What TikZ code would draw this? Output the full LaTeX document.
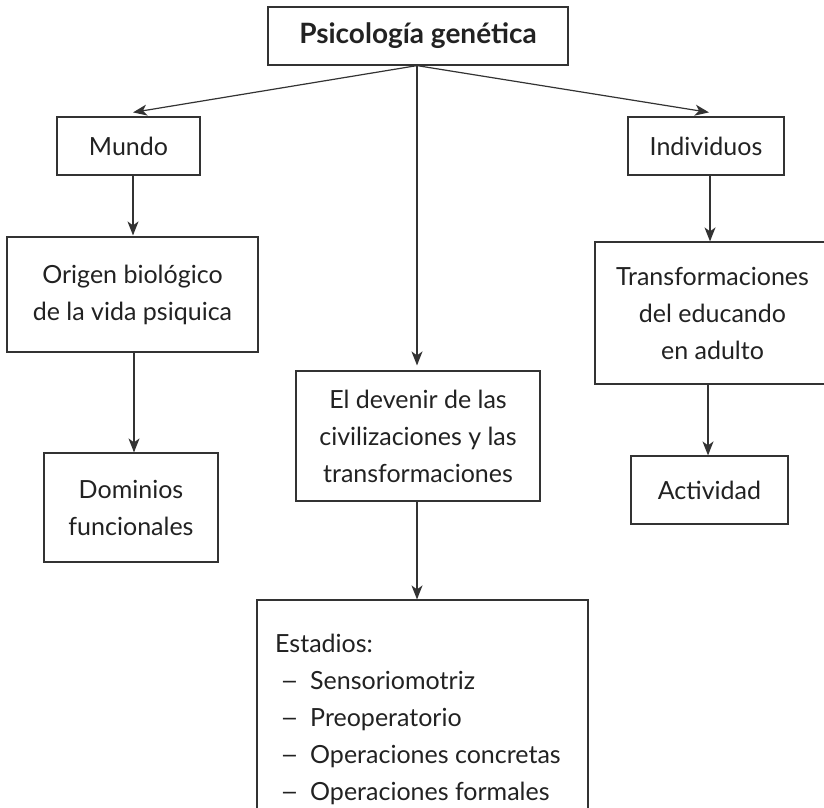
\documentclass[tikz,border=0pt]{standalone}
\usepackage{fontspec}
\setmainfont{Lato}
\usetikzlibrary{arrows.meta,calc}
\definecolor{ink}{HTML}{222222}
\definecolor{frame}{HTML}{333333}
\tikzset{
  box/.style={draw=frame, line width=1.2pt, rectangle, inner sep=0pt, align=center,
    text=ink, node font={\fontsize{25}{37}\selectfont}},
  arr/.style={draw=frame, line width=1.2pt, -{Stealth[length=14pt,width=11pt,inset=4pt]}},
  itemtxt/.style={anchor=base west, inner sep=0pt, text=ink, font={\fontsize{25}{37}\selectfont}}
}
\newcommand{\listdash}{\scalebox{1.3}[1]{–}}
\begin{document}
\begin{tikzpicture}[x=1pt,y=-1pt]
\clip (0,0) rectangle (824,807);
\fill[white] (0,0) rectangle (824,807);
% boxes
\node[box, minimum width=300pt, minimum height=58pt, font={\fontsize{28}{37}\selectfont\bfseries}] (top) at (418,36) {Psicología genética};
\node[box, minimum width=143pt, minimum height=58pt] (mundo) at (128.5,146) {Mundo};
\node[box, minimum width=156pt, minimum height=58pt] (indiv) at (706,146) {Individuos};
\node[box, minimum width=251pt, minimum height=115pt] (origen) at (132.5,294.5) {Origen biológico\\de la vida psiquica};
\node[box, minimum width=174pt, minimum height=109pt] (dominios) at (131,507.5) {Dominios\\funcionales};
\node[box, minimum width=244pt, minimum height=130pt] (devenir) at (418,436) {El devenir de las\\civilizaciones y las\\transformaciones};
\node[box, minimum width=235pt, minimum height=142pt] (transf) at (712.5,313) {Transformaciones\\del educando\\en adulto};
\node[box, minimum width=157pt, minimum height=68pt] (activ) at (709.5,490) {Actividad};
\node[box, minimum width=331pt, minimum height=240pt] (estadios) at (422.5,720) {};
% list inside Estadios
\node[itemtxt] (e0) at (275,652) {Estadios:};
\node[itemtxt] (d1) at (280,689) {\listdash};
\node[itemtxt] (e1) at (310,689) {Sensoriomotriz};
\node[itemtxt] (d2) at (280,726) {\listdash};
\node[itemtxt] (e2) at (310,726) {Preoperatorio};
\node[itemtxt] (d3) at (280,763) {\listdash};
\node[itemtxt] (e3) at (310,763) {Operaciones concretas};
\node[itemtxt] (d4) at (280,800) {\listdash};
\node[itemtxt] (e4) at (310,800) {Operaciones formales};
% connectors
\coordinate (src) at ([xshift=-1pt]top.south);
\draw[arr] (src) -- ([xshift=4.5pt,yshift=4pt]mundo.north);
\draw[arr] (src) -- ([xshift=3pt,yshift=4pt]indiv.north);
\draw[arr] (src) -- ([yshift=5pt]src |- devenir.north);
\draw[arr] ([xshift=4.5pt]mundo.south) -- ([xshift=4.5pt,yshift=1pt]mundo.south |- origen.north);
\draw[arr] ([xshift=1.5pt]origen.south) -- ([xshift=1.5pt]origen.south |- dominios.north);
\draw[arr] ([xshift=4pt]indiv.south) -- ([xshift=4pt]indiv.south |- transf.north);
\draw[arr] ([xshift=-1.5pt]activ.north |- transf.south) -- ([xshift=-1.5pt]activ.north);
\draw[arr] ([xshift=-1pt]devenir.south) -- ([xshift=-1pt]devenir.south |- estadios.north);
\end{tikzpicture}
\end{document}
